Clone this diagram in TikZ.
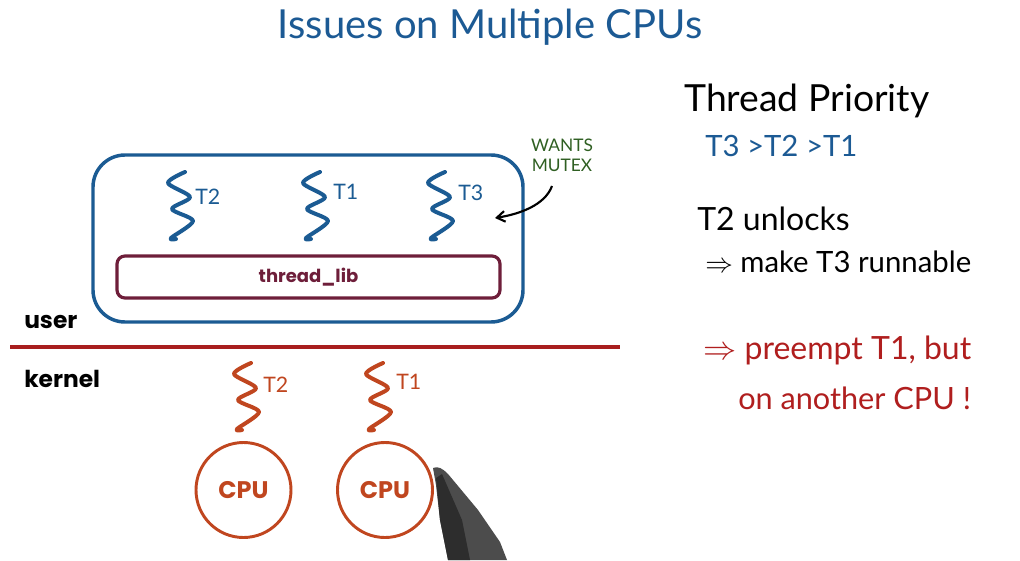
\documentclass[tikz,border=0pt]{standalone}
\usepackage{fontspec}
\setmainfont{Lato}
\newfontfamily\geo{Poppins}
\usetikzlibrary{arrows.meta}
\definecolor{ttlblue}{HTML}{1C5A94}
\definecolor{boxblue}{HTML}{1B5B93}
\definecolor{maroon}{HTML}{6E1E3A}
\definecolor{linered}{HTML}{A81E1E}
\definecolor{korange}{HTML}{C0461F}
\definecolor{txtred}{HTML}{B01E1E}
\definecolor{mgreen}{HTML}{2F5F22}
\tikzset{
  squig/.style={line width=3pt, line cap=round, line join=round},
  tlabel/.style={font=\fontsize{16}{16}\selectfont, inner sep=0pt, anchor=west},
  hand/.style={inner sep=0pt, anchor=west},
  geolabel/.style={font=\geo\bfseries\fontsize{17.5}{17.5}\selectfont, inner sep=0pt},
  cpu/.style={circle, draw=korange, line width=2.2pt, minimum size=95*0.75pt, text=korange, font=\geo\bfseries\fontsize{18}{18}\selectfont},
}
\newcommand\drawsquig[3]{%
  \draw[squig,#3,shift={(#1,#2)}] plot[smooth,tension=0.5] coordinates
    {(19,0) (2,11) (24,25) (6,37) (27,49) (5,66) (10,67)};}
\begin{document}
\begin{tikzpicture}[x=0.75pt,y=-0.75pt]
\useasboundingbox (0,0) rectangle (1020,560);
\fill[white] (0,0) rectangle (1020,560);
% title
\node[text=ttlblue, font=\fontsize{30}{30}\selectfont, inner sep=0pt] (title) at (490,27) {Issues on Multiple CPUs};
% user box
\node[draw=boxblue, line width=2.6pt, rounded corners=24pt, minimum width=430*0.75pt, minimum height=167*0.75pt, inner sep=0pt] (ubox) at (308,238.5) {};
\node[draw=maroon, line width=2.4pt, rounded corners=6pt, minimum width=383*0.75pt, minimum height=42*0.75pt, inner sep=0pt, text=maroon, font=\geo\bfseries\fontsize{13.5}{13.5}\selectfont] (tlib) at (308.5,277) {thread\_lib};
% user threads
\drawsquig{166}{172}{boxblue}
\node[tlabel, text=boxblue] (ut2) at (195,197) {T2};
\drawsquig{301}{172}{boxblue}
\node[tlabel, text=boxblue] (ut1) at (333,192) {T1};
\drawsquig{426}{172}{boxblue}
\node[tlabel, text=boxblue] (ut3) at (458,193) {T3};
% wants mutex
\node[text=mgreen, font=\fontsize{13}{15}\selectfont, align=center, inner sep=0pt] (wants) at (562,155) {WANTS\\MUTEX};
\coordinate (wend) at (495,218);
\draw[line width=1.6pt, -{Straight Barb[length=6pt,width=8pt]}] (552,186) .. controls (545,205) and (520,214) .. (wend);
% user / kernel
\node[geolabel, anchor=west] (user) at (24,322) {user};
\node[geolabel, anchor=west] (kernel) at (24,379) {kernel};
\coordinate (sepL) at (10,347);
\coordinate (sepR) at (620,347);
\draw[linered, line width=2.6pt] (sepL) -- (sepR);
% kernel threads
\drawsquig{232}{363}{korange}
\node[tlabel, text=korange] (kt2) at (263,385) {T2};
\drawsquig{364}{363}{korange}
\node[tlabel, text=korange] (kt1) at (396,382) {T1};
% CPUs
\node[cpu] (cpu1) at (243.5,490) {CPU};
\node[cpu] (cpu2) at (385,490) {CPU};
% pen
\fill[gray!60!black] (433,468) .. controls (438,466) and (442,468) .. (448,474) -- (478,510) -- (500,542) -- (507,560) -- (448,560) -- (440,520) -- (436,485) -- cycle;
\fill[gray!35!black] (436,478) -- (442,474) -- (462,520) -- (470,560) -- (448,560) -- (440,520) -- cycle;
% right text
\node[hand, font=\fontsize{28}{28}\selectfont] (prio) at (684,101) {Thread Priority};
\node[hand, text=ttlblue, font=\fontsize{22}{22}\selectfont] (order) at (705,146) {T3 >T2 >T1};
\node[hand, font=\fontsize{24}{24}\selectfont] (unl) at (697,219) {T2 unlocks};
\node[hand, font=\fontsize{22}{22}\selectfont] (mk) at (705,262) {$\Rightarrow$ make T3 runnable};
\node[hand, text=txtred, font=\fontsize{24}{24}\selectfont] (pre) at (703,350) {$\Rightarrow$ preempt T1, but};
\node[hand, text=txtred, font=\fontsize{23}{23}\selectfont] (ano) at (738,398) {on another CPU !};
\end{tikzpicture}
\end{document}
